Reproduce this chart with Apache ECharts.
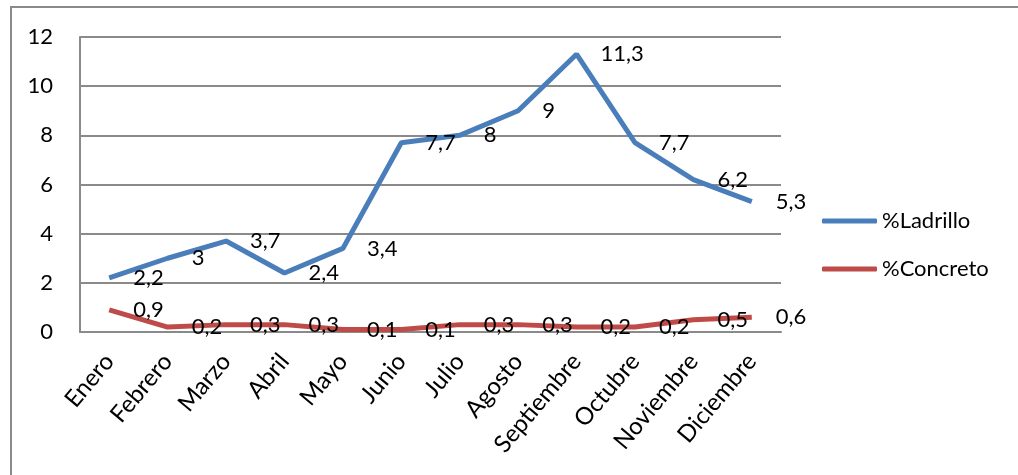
<!DOCTYPE html>
<html>
<head>
<meta charset="utf-8">
<title>Ladrillo y Concreto</title>
<script src="https://cdn.jsdelivr.net/npm/echarts@6/dist/echarts.min.js"></script>
</head>
<body style="margin:0;padding:0;background:#fff;">
<div id="main" style="width:1018px;height:475px;"></div>
<script type="text/javascript">
var meses = ['Enero', 'Febrero', 'Marzo', 'Abril', 'Mayo', 'Junio', 'Julio', 'Agosto', 'Septiembre', 'Octubre', 'Noviembre', 'Diciembre'];
var ladrillo = [2.2, 3, 3.7, 2.4, 3.4, 7.7, 8, 9, 11.3, 7.7, 6.2, 5.3];
var concreto = [0.9, 0.2, 0.3, 0.3, 0.1, 0.1, 0.3, 0.3, 0.2, 0.2, 0.5, 0.6];

var fuente = 'Lato';
var gris = '#8a8a8a';

function etiqueta(p) {
    return String(p.value).replace('.', ',');
}

function serie(nombre, datos, color) {
    return {
        name: nombre,
        type: 'line',
        data: datos,
        symbol: 'circle',
        symbolSize: 0,
        lineStyle: { color: color, width: 5 },
        itemStyle: { color: color },
        label: {
            show: true,
            position: 'right',
            distance: 24,
            formatter: etiqueta,
            color: '#000',
            fontFamily: fuente,
            fontSize: 22
        },
        emphasis: { disabled: true },
        animation: false
    };
}

var myChart = echarts.init(document.getElementById('main'));

var option = {
    backgroundColor: '#fff',
    textStyle: { fontFamily: fuente },
    graphic: [{
        type: 'rect',
        shape: { x: 11, y: 7, width: 1100, height: 520 },
        style: { fill: 'none', stroke: gris, lineWidth: 2 },
        silent: true
    }],
    legend: {
        orient: 'vertical',
        left: 817,
        top: 203,
        icon: 'roundRect',
        itemWidth: 55,
        itemHeight: 5,
        itemGap: 22,
        textStyle: { color: '#000', fontSize: 22, lineHeight: 26, fontFamily: fuente },
        data: ['%Ladrillo', '%Concreto']
    },
    grid: {
        left: 80,
        right: 237,
        top: 37,
        bottom: 143,
        containLabel: false
    },
    xAxis: {
        type: 'category',
        boundaryGap: true,
        data: meses,
        axisLine: { lineStyle: { color: gris, width: 2 } },
        axisTick: { show: false },
        axisLabel: {
            rotate: 50,
            margin: 25,
            interval: 0,
            color: '#000',
            fontSize: 24,
            fontFamily: fuente
        }
    },
    yAxis: {
        type: 'value',
        min: 0,
        max: 12,
        interval: 2,
        axisLine: { show: true, lineStyle: { color: gris, width: 2 } },
        axisTick: { show: false },
        splitLine: { lineStyle: { color: gris, width: 2 } },
        axisLabel: {
            margin: 27,
            color: '#000',
            fontSize: 22,
            fontFamily: fuente
        }
    },
    series: [
        serie('%Ladrillo', ladrillo, '#4A7EBB'),
        serie('%Concreto', concreto, '#BE4B48')
    ]
};
myChart.setOption(option);
</script>
</body>
</html>
